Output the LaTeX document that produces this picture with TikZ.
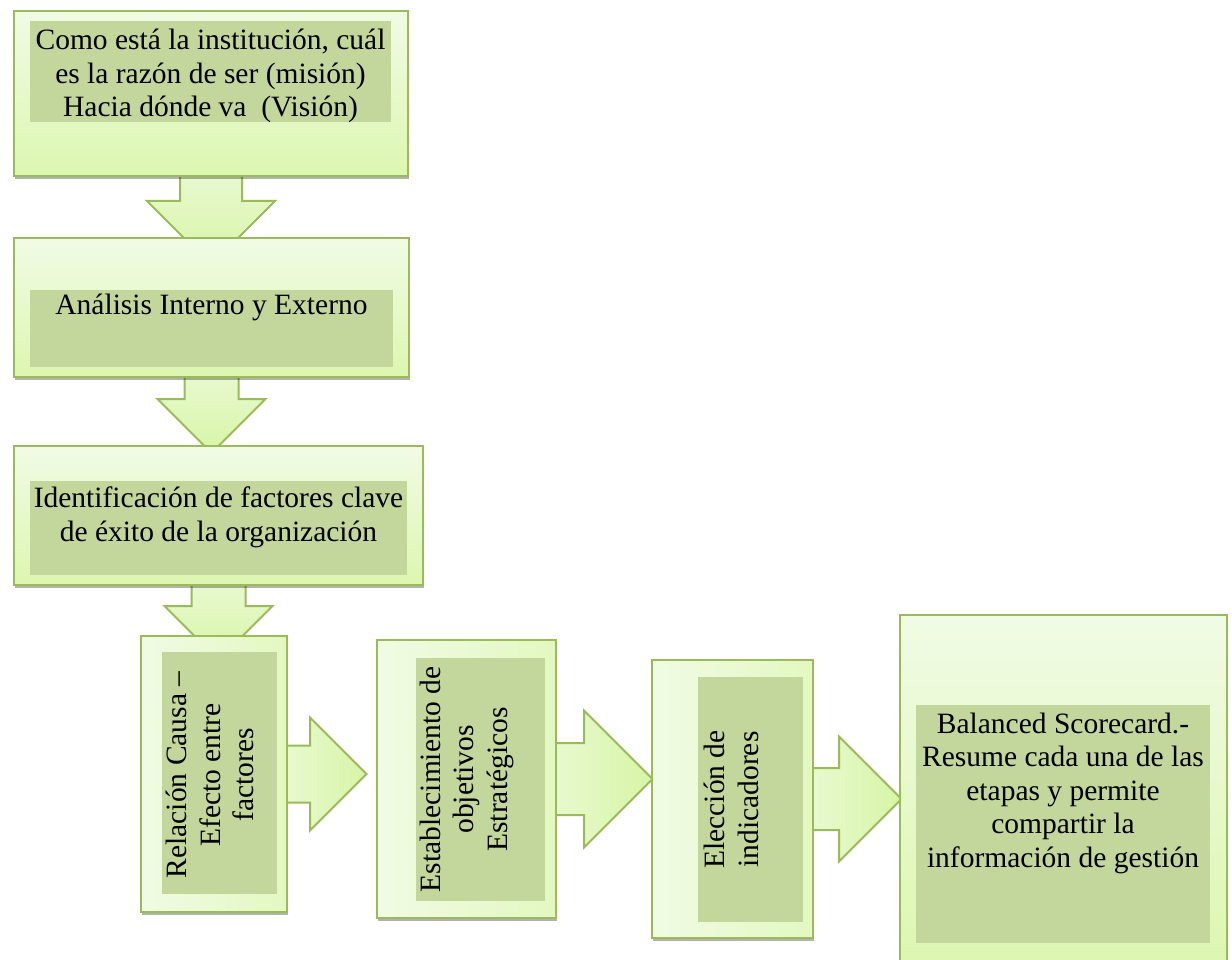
\documentclass[tikz,border=0pt]{standalone}
\usepackage{fontspec}
\setmainfont{Liberation Serif}
\usetikzlibrary{calc, shadows, backgrounds}

\definecolor{boxline}{HTML}{9BBB59}
\definecolor{boxlight}{HTML}{F1FBE5}
\definecolor{boxdark}{HTML}{DCF7B0}
\definecolor{textfill}{HTML}{C3D69B}
\definecolor{arrowlight}{HTML}{E8F9CF}
\definecolor{arrowdark}{HTML}{D7F5A6}

\tikzset{
  stage/.style={draw=boxline, line width=2pt, inner sep=0pt,
    drop shadow={shadow xshift=1pt, shadow yshift=-3pt, opacity=0.3, fill=black}},
  stagetop/.style={stage, top color=boxlight, bottom color=boxdark},
  stageside/.style={stage, left color=boxlight, right color=boxdark!70!boxlight},
  textarea/.style={fill=textfill, inner sep=0pt},
  steptext/.style={font=\fontsize{29.5}{33.5}\selectfont, align=center, inner sep=0pt},
  flowdown/.style={draw=boxline, line width=2pt, top color=arrowlight, bottom color=arrowdark},
  flowright/.style={draw=boxline, line width=2pt, left color=arrowlight, right color=arrowdark}
}

\begin{document}
\begin{tikzpicture}[x=1pt, y=-1pt]
\useasboundingbox (0,0) rectangle (1232,960);
% upper stages
\node[stagetop, minimum width=394pt, minimum height=165pt] (b1) at (211,93.5) {};
\node[textarea, minimum width=361pt, minimum height=101pt] (t1) at (210.5,71.5) {};
\node[steptext, anchor=north] (l1) at ($(t1.north)+(0,8)$) {Como está la institución, cuál\\es la razón de ser (misión)\\Hacia dónde va\ \ (Visión)};
\node[stagetop, minimum width=395pt, minimum height=139pt] (b2) at (211.5,307.5) {};
\node[textarea, minimum width=363pt, minimum height=77pt] (t2) at (211.5,328.5) {};
\node[steptext, anchor=north] (l2) at ($(t2.north)+(0,4)$) {Análisis Interno y Externo};
\node[stagetop, minimum width=409pt, minimum height=139pt] (b3) at (218.5,515.5) {};
\node[textarea, minimum width=377pt, minimum height=94pt] (t3) at (218.5,528) {};
\node[steptext, anchor=north] (l3) at ($(t3.north)+(0,6)$) {Identificación de factores clave\\de éxito de la organización};
% lower stages
\node[stageside, minimum width=146pt, minimum height=276pt] (b4) at (214,774) {};
\node[textarea, minimum width=115pt, minimum height=242pt] (t4) at (219.5,773) {};
\node[steptext, rotate=90, anchor=north] (l4) at ($(t4.west)+(4,2)$) {Relación Causa –\\Efecto entre\\factores};
\node[stageside, minimum width=179pt, minimum height=278pt] (b5) at (466.5,779) {};
\node[textarea, minimum width=129pt, minimum height=243pt] (t5) at (480.5,779.5) {};
\node[steptext, rotate=90, anchor=north] (l5) at ($(t5.west)+(4,0)$) {Establecimiento de\\objetivos\\Estratégicos};
\node[stageside, minimum width=161pt, minimum height=278pt] (b6) at (732.5,799) {};
\node[textarea, minimum width=105pt, minimum height=245pt] (t6) at (750.5,799.5) {};
\node[steptext, rotate=90, anchor=north] (l6) at ($(t6.west)+(6,0)$) {Elección de\\indicadores};
\node[stagetop, minimum width=327pt, minimum height=355pt] (b7) at (1063.5,792.5) {};
\node[textarea, minimum width=294pt, minimum height=238pt] (t7) at (1063,824) {};
\node[steptext, anchor=north] (l7) at ($(t7.north)+(0,8)$) {Balanced Scorecard.-\\Resume cada una de las\\etapas y permite\\compartir la\\información de gestión};
% block arrows
\begin{pgfonlayer}{background}
\foreach \from/\w/\s/\h in {b1/31/24/64, b2/27/21/54, b3/27/20/54}
  \draw[flowdown] ($(\from.south)+(-\w,-2)$) -- ++(0,\s+2) -- ++(\w-\h,0) -- ++(\h,\h)
    -- ++(\h,-\h) -- ++(\w-\h,0) -- ++(0,-\s-2) -- cycle;
\foreach \from/\w/\s/\h in {b4/28.5/22/56.5, b5/36/27/68.5, b6/31/25/62.5}
  \draw[flowright] ($(\from.east)+(-2,-\w)$) -- ++(\s+2,0) -- ++(0,\w-\h) -- ++(\h,\h)
    -- ++(-\h,\h) -- ++(0,\w-\h) -- ++(-\s-2,0) -- cycle;
\end{pgfonlayer}
\end{tikzpicture}
\end{document}
